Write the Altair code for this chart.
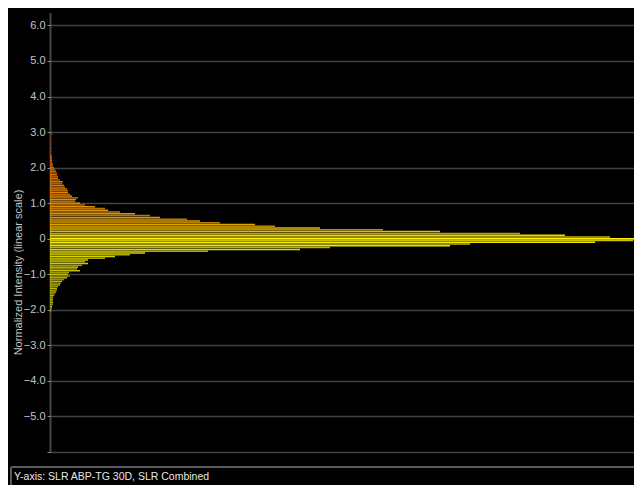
import altair as alt
import pandas as pd

# Bin centres (normalized intensity) and bar lengths (counts)
bin_center = [3.70, 2.95, 2.70, 2.55, 2.45, 2.35, 2.30, 2.25, 2.20, 2.15, 2.10, 2.05,
              2.00, 1.95, 1.90, 1.85, 1.80, 1.75, 1.70, 1.65, 1.60, 1.55, 1.50, 1.45,
              1.40, 1.35, 1.30, 1.25, 1.20, 1.15, 1.10, 1.05, 1.00, 0.95, 0.90, 0.85,
              0.80, 0.75, 0.70, 0.65, 0.60, 0.55, 0.50, 0.45, 0.40, 0.35, 0.30, 0.25,
              0.20, 0.15, 0.10, 0.05, 0.00, -0.05, -0.10, -0.15, -0.20, -0.25, -0.30,
              -0.35, -0.40, -0.45, -0.50, -0.55, -0.60, -0.65, -0.70, -0.75, -0.80,
              -0.85, -0.90, -0.95, -1.00, -1.05, -1.10, -1.15, -1.20, -1.25, -1.30,
              -1.35, -1.40, -1.45, -1.50, -1.55, -1.60, -1.65, -1.70, -1.75, -1.80,
              -1.85, -1.90, -1.95, -2.00, -2.05]
counts = [1, 2.5, 1, 1, 1, 1.5, 2, 2, 2, 2, 3, 3,
          4, 5, 6, 7, 7, 8, 8, 10, 13, 12, 14, 15,
          17, 18, 18, 20, 22, 28, 26, 25, 30, 35, 45, 55,
          58, 70, 85, 100, 110, 137, 150, 170, 205, 225, 270, 333,
          390, 470, 515, 560, 592, 583, 545, 420, 400, 280, 250,
          158, 95, 80, 65, 55, 38, 35, 38, 32, 28,
          27, 30, 19, 18, 20, 17, 14, 12, 11, 10,
          8, 7, 7, 6, 5, 4, 3, 3, 3, 3,
          3, 2, 2, 1, 1]

y_ticks = [-6, -5, -4, -3, -2, -1, 0, 1, 2, 3, 4, 5, 6]
y_title = "Normalized Intensity (linear scale)"
footer_text = "Y-axis:  SLR ABP-TG 30D, SLR Combined"

color_domain = [-2.1, -1.0, -0.3, 0.0, 0.2, 0.55, 1.1, 2.0, 2.9]
color_range = ["#a8a400", "#c2bc00", "#e2da00", "#fff200", "#e8be00",
               "#e09800", "#e88a00", "#d86800", "#d02800"]

df = pd.DataFrame({"v": bin_center, "count": counts})
df["lo"] = df["v"] - 0.021
df["hi"] = df["v"] + 0.021
df["shade"] = ["a" if i % 2 == 0 else "b" for i in range(len(df))]

W, H = 584, 439
FONT = "Liberation Sans"
LEFT = 42

bars = alt.Chart(df).mark_bar(clip=True).encode(
    y=alt.Y("lo:Q",
            scale=alt.Scale(domain=[-6, 6.35], nice=False, zero=False),
            axis=alt.Axis(values=y_ticks,
                          labelExpr="datum.value == -6 ? '' : (datum.value == 0 ? '0' : format(datum.value, '.1f'))",
                          title=y_title, titleX=-32, titleY=259, titleAngle=-90,
                          titleAlign="center", titleBaseline="middle",
                          titleFont=FONT, titleFontSize=11, titleFontWeight="normal",
                          titleColor="#c4c4c4",
                          labelFont=FONT, labelFontSize=11, labelColor="#c4c4c4",
                          labelPadding=2, tickSize=3, tickColor="#8a8a8a",
                          domainColor="#8a8a8a", domainDash=[1, 1], domainWidth=2,
                          grid=True, gridColor="#3c4444", gridWidth=1.5)),
    y2="hi:Q",
    x=alt.X("count:Q", scale=alt.Scale(domain=[0, W], nice=False), axis=None),
    x2=alt.datum(0),
    color=alt.Color("v:Q", scale=alt.Scale(domain=color_domain, range=color_range,
                                           interpolate="rgb"), legend=None),
    opacity=alt.Opacity("shade:N", scale=alt.Scale(domain=["a", "b"], range=[1.0, 0.8]),
                        legend=None),
)

footer_line = alt.Chart(df).mark_rule(color="#5a5a5a", strokeWidth=1).encode(
    x=alt.value(-39), x2=alt.value(W), y=alt.value(H + 15))
footer_vline = alt.Chart(df).mark_rule(color="#5a5a5a", strokeWidth=1).encode(
    x=alt.value(-39), y=alt.value(H + 15), y2=alt.value(H + 33))
footer = alt.Chart(pd.DataFrame({"t": [footer_text]})).mark_text(
    align="left", baseline="middle", font=FONT, fontSize=10.5, color="#e6e6e6"
).encode(text="t:N", x=alt.value(-36), y=alt.value(H + 25))

chart = alt.layer(bars, footer_line, footer_vline, footer).properties(
    width=W, height=H,
    background="#000000",
    padding={"left": LEFT, "top": 5, "right": 0, "bottom": 33},
    autosize=alt.AutoSizeParams(type="none"),
).configure_view(stroke=None, fill="#000000")

chart.save("out.html", embed_options={"renderer": "svg", "actions": False})
